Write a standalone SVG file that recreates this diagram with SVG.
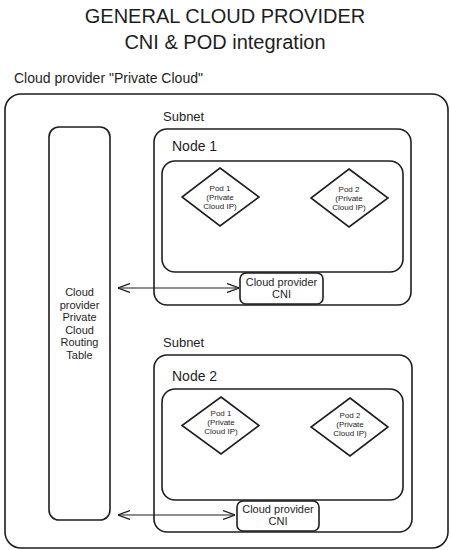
<svg xmlns="http://www.w3.org/2000/svg" width="450" height="550" viewBox="0 0 450 550">
  <defs>
    <marker id="arr" viewBox="0 0 12 10" refX="12" refY="5" markerWidth="12" markerHeight="10" markerUnits="userSpaceOnUse" orient="auto-start-reverse">
      <path d="M0,0.5 L12,5 L0,9.5" fill="none" stroke="#1e1e1e" stroke-width="1.2"/>
    </marker>
    <style>
      text { font-family: "Liberation Sans", Arial, sans-serif; fill: #1e1e1e; }
      .box { fill: none; stroke: #1e1e1e; stroke-width: 1.6; }
      .wbox { fill: #ffffff; stroke: #1e1e1e; stroke-width: 1.6; }
      .title { font-size: 20px; text-anchor: middle; }
      .lbl { font-size: 14px; }
      .sub { font-size: 13px; }
      .rt { font-size: 11px; text-anchor: middle; }
      .pod { font-size: 8px; text-anchor: middle; }
      .cni { font-size: 11px; text-anchor: middle; }
      .conn { stroke: #1e1e1e; stroke-width: 1.2; fill: none; }
    </style>
  </defs>
  <rect width="450" height="550" fill="#ffffff"/>

  <g id="title">
    <text class="title" x="225" y="23">GENERAL CLOUD PROVIDER</text>
    <text class="title" x="225" y="49">CNI &amp; POD integration</text>
  </g>

  <g id="private-cloud">
    <text class="lbl" x="14" y="83">Cloud provider "Private Cloud"</text>
    <rect class="box" x="5" y="94" width="443" height="454" rx="16"/>
  </g>

  <g id="routing-table">
    <rect class="box" x="49" y="127" width="61" height="393" rx="10"/>
    <text class="rt" x="79.5" y="296">Cloud</text>
    <text class="rt" x="79.5" y="308.5">provider</text>
    <text class="rt" x="79.5" y="321">Private</text>
    <text class="rt" x="79.5" y="333.5">Cloud</text>
    <text class="rt" x="79.5" y="346">Routing</text>
    <text class="rt" x="79.5" y="358.5">Table</text>
  </g>

  <g id="subnet-1">
    <text class="sub" x="163" y="121">Subnet</text>
    <rect class="box" x="154" y="129" width="257" height="176" rx="13"/>
  </g>
  <g id="node-1">
    <text class="lbl" x="172" y="151">Node 1</text>
    <rect class="box" x="162" y="161" width="241" height="111" rx="13"/>
  </g>
  <g id="node1-pod1">
    <polygon class="box" points="220,168 259,197 220,226 182,197"/>
    <text class="pod" x="220" y="191">Pod 1</text>
    <text class="pod" x="220" y="200">(Private</text>
    <text class="pod" x="220" y="209">Cloud IP)</text>
  </g>
  <g id="node1-pod2">
    <polygon class="box" points="349,169 388,198 349,227 311,198"/>
    <text class="pod" x="349" y="192">Pod 2</text>
    <text class="pod" x="349" y="201">(Private</text>
    <text class="pod" x="349" y="210">Cloud IP)</text>
  </g>
  <g id="cni-1">
    <rect class="wbox" x="240" y="273" width="83" height="31" rx="6"/>
    <text class="cni" x="281.5" y="286">Cloud provider</text>
    <text class="cni" x="281.5" y="298">CNI</text>
  </g>

  <g id="subnet-2">
    <text class="sub" x="163" y="347">Subnet</text>
    <rect class="box" x="154" y="355" width="258" height="177" rx="13"/>
  </g>
  <g id="node-2">
    <text class="lbl" x="172" y="381">Node 2</text>
    <rect class="box" x="162" y="389" width="241" height="111" rx="13"/>
  </g>
  <g id="node2-pod1">
    <polygon class="box" points="221,397 259,425.5 221,454 182,425.5"/>
    <text class="pod" x="221" y="416">Pod 1</text>
    <text class="pod" x="221" y="425">(Private</text>
    <text class="pod" x="221" y="434">Cloud IP)</text>
  </g>
  <g id="node2-pod2">
    <polygon class="box" points="350,398 388,427 350,456 311,427"/>
    <text class="pod" x="350" y="418">Pod 2</text>
    <text class="pod" x="350" y="427">(Private</text>
    <text class="pod" x="350" y="436">Cloud IP)</text>
  </g>
  <g id="cni-2">
    <rect class="wbox" x="237" y="501" width="82" height="30" rx="6"/>
    <text class="cni" x="278" y="513">Cloud provider</text>
    <text class="cni" x="278" y="525">CNI</text>
  </g>

  <g id="connectors">
    <line class="conn" x1="118" y1="288" x2="239" y2="288" marker-start="url(#arr)" marker-end="url(#arr)"/>
    <line class="conn" x1="118" y1="515" x2="235" y2="515" marker-start="url(#arr)" marker-end="url(#arr)"/>
  </g>
</svg>
